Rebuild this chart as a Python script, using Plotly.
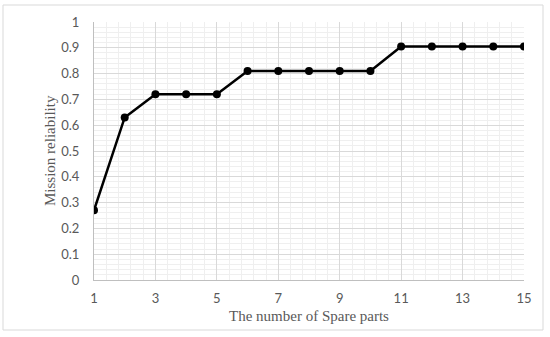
import plotly.graph_objects as go

spare_parts = list(range(1, 16))
reliability = [0.27, 0.63, 0.72, 0.72, 0.72, 0.81, 0.81, 0.81, 0.81, 0.81,
               0.905, 0.905, 0.905, 0.905, 0.905]
x_ticks = [1, 3, 5, 7, 9, 11, 13, 15]
y_ticks = [0, 0.1, 0.2, 0.3, 0.4, 0.5, 0.6, 0.7, 0.8, 0.9, 1]
y_tick_labels = ["0", "0.1", "0.2", "0.3", "0.4", "0.5", "0.6", "0.7", "0.8", "0.9", "1"]
x_title = "The number of Spare parts"
y_title = "Mission reliability"

fig = go.Figure()
fig.add_trace(go.Scatter(
    x=spare_parts, y=reliability, mode="lines+markers",
    line=dict(color="black", width=2.5),
    marker=dict(color="black", size=8),
    showlegend=False,
))

W, H = 550, 337
L, R, T, B = 94, 26, 22, 57
pw, ph = W - L - R, H - T - B

def px_x(p):
    return (p - L) / pw

def px_y(p):
    return (H - B - p) / ph

tick_font = dict(family="Lato, Liberation Sans, sans-serif", size=13, color="#595959")
title_font = dict(family="Liberation Serif, serif", size=15, color="#595959")

fig.update_layout(
    width=W, height=H,
    margin=dict(l=L, r=R, t=T, b=B),
    paper_bgcolor="white", plot_bgcolor="white",
    xaxis=dict(
        range=[1, 15], tickvals=x_ticks, ticktext=[str(v) for v in x_ticks],
        showgrid=True, gridcolor="#d9d9d9", gridwidth=1,
        minor=dict(dtick=0.4, tick0=1, showgrid=True, gridcolor="#efefef", gridwidth=1),
        showline=True, linecolor="#bfbfbf", linewidth=1,
        zeroline=False, ticks="", tickfont=tick_font, ticklabelstandoff=6,
    ),
    yaxis=dict(
        range=[0, 1], tickvals=y_ticks, ticktext=y_tick_labels,
        showgrid=True, gridcolor="#d9d9d9", gridwidth=1,
        minor=dict(dtick=0.02, tick0=0, showgrid=True, gridcolor="#efefef", gridwidth=1),
        showline=True, linecolor="#bfbfbf", linewidth=1,
        zeroline=False, ticks="", tickfont=tick_font, ticklabelstandoff=11,
    ),
    annotations=[
        dict(text=x_title, xref="paper", yref="paper", x=px_x(309), y=px_y(316),
             xanchor="center", yanchor="middle", showarrow=False, font=title_font),
        dict(text=y_title, xref="paper", yref="paper", x=px_x(50), y=px_y(151),
             xanchor="center", yanchor="middle", showarrow=False, font=title_font,
             textangle=-90),
    ],
    shapes=[dict(
        type="rect", xref="paper", yref="paper",
        x0=px_x(3), x1=px_x(543), y0=px_y(330), y1=px_y(5),
        line=dict(color="#d9d9d9", width=1), layer="below",
    )],
)

fig.write_html("out.html", config={"displayModeBar": False},
               post_script="document.body.style.margin='0';")
